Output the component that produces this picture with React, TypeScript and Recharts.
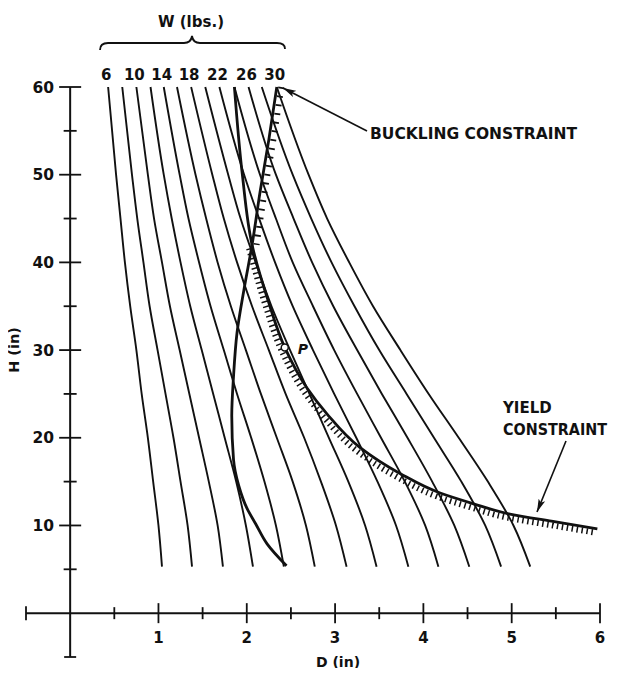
import { ComposedChart, Line, Scatter, XAxis, YAxis, ReferenceLine } from "recharts"

const hLevels = [60, 50, 45, 40, 35, 30, 25, 20, 15, 10, 5.3]

// D (in) for each constant-weight curve, W in lbs
const w06 = [0.43, 0.52, 0.57, 0.62, 0.68, 0.75, 0.81, 0.88, 0.94, 1.0, 1.04]
const w08 = [0.59, 0.7, 0.76, 0.83, 0.9, 0.99, 1.08, 1.17, 1.25, 1.33, 1.38]
const w10 = [0.75, 0.88, 0.95, 1.04, 1.13, 1.24, 1.35, 1.46, 1.57, 1.67, 1.73]
const w12 = [0.91, 1.06, 1.15, 1.25, 1.36, 1.49, 1.62, 1.75, 1.88, 1.99, 2.07]
const w14 = [1.06, 1.24, 1.34, 1.46, 1.59, 1.74, 1.89, 2.05, 2.2, 2.33, 2.42]
const w16 = [1.21, 1.42, 1.54, 1.67, 1.82, 1.99, 2.16, 2.34, 2.52, 2.67, 2.77]
const w18 = [1.37, 1.61, 1.74, 1.89, 2.06, 2.25, 2.44, 2.65, 2.84, 3.01, 3.13]
const w20 = [1.53, 1.79, 1.93, 2.1, 2.28, 2.49, 2.71, 2.93, 3.15, 3.34, 3.47]
const w22 = [1.69, 1.97, 2.14, 2.32, 2.52, 2.75, 2.99, 3.24, 3.48, 3.69, 3.83]
const w24 = [1.86, 2.15, 2.33, 2.52, 2.75, 2.99, 3.25, 3.52, 3.79, 4.02, 4.17]
const w26 = [2.02, 2.33, 2.53, 2.74, 2.98, 3.25, 3.53, 3.82, 4.1, 4.35, 4.52]
const w28 = [2.17, 2.52, 2.73, 2.96, 3.22, 3.5, 3.81, 4.12, 4.43, 4.7, 4.88]
const w30 = [2.34, 2.7, 2.91, 3.16, 3.43, 3.74, 4.06, 4.4, 4.73, 5.02, 5.21]

const weights = [6, 8, 10, 12, 14, 16, 18, 20, 22, 24, 26, 28, 30]
const weightCurves = [w06, w08, w10, w12, w14, w16, w18, w20, w22, w24, w26, w28, w30]
const weightLabels = [6, 10, 14, 18, 22, 26, 30]

// yield constraint (hatched below the crossing with buckling)
const yieldD = [1.86, 1.95, 2.06, 2.24, 2.43, 2.68, 2.91, 3.28, 3.74, 4.19, 4.56, 4.98, 5.5, 5.97]
const yieldH = [60, 50, 42, 35.7, 30.3, 25.7, 22.7, 18.9, 15.9, 13.7, 12.5, 11.3, 10.4, 9.6]

// buckling constraint (hatched above the crossing)
const buckD = [2.34, 2.25, 2.15, 2.06, 1.97, 1.89, 1.85, 1.83, 1.85, 1.91, 2.0, 2.1, 2.23, 2.45]
const buckH = [60, 54, 48, 42, 37, 32, 27, 22.5, 17.5, 14.5, 12, 10.2, 7.9, 5.4]

const pointP = { D: 2.43, H: 30.3 }

const xMajor = [1, 2, 3, 4, 5, 6]
const xMinor = [0.5, 1.5, 2.5, 3.5, 4.5, 5.5]
const yMajor = [10, 20, 30, 40, 50, 60]
const yMinor = [5, 15, 25, 35, 45, 55]

const toPts = (ds: number[], hs: number[]) => ds.map((d, i) => ({ D: d, H: hs[i] }))

const curveData = weightCurves.map((ds) => toPts(ds, hLevels))
const yieldPts = toPts(yieldD, yieldH)
const buckPts = toPts(buckD, buckH)

const xTickData = [
  ...xMajor.map((v) => ({ D: v, H: 0, len: 10, label: String(v) })),
  ...xMinor.map((v) => ({ D: v, H: 0, len: 6, label: "" })),
  { D: -0.5, H: 0, len: 7, label: "" },
]
const yTickData = [
  ...yMajor.map((v) => ({ D: 0, H: v, len: 11, label: String(v) })),
  ...yMinor.map((v) => ({ D: 0, H: v, len: 6.5, label: "" })),
  { D: 0, H: -5, len: 6, label: "" },
]
const wLabelData = weightLabels.map((w) => ({
  D: weightCurves[weights.indexOf(w)][0],
  H: hLevels[0],
  label: String(w),
}))

const font = { fontFamily: "DejaVu Sans", fontWeight: "bold" as const }
const ink = "#111"

const XTick = (p: any) => (
  <g>
    <line x1={p.cx} x2={p.cx} y1={p.cy - p.payload.len} y2={p.cy + p.payload.len} stroke={ink} strokeWidth={1.8} />
    {p.payload.label && (
      <text x={p.cx} y={p.cy + 30} textAnchor="middle" fontSize={15} fill={ink} {...font}>
        {p.payload.label}
      </text>
    )}
  </g>
)

const YTick = (p: any) => (
  <g>
    <line x1={p.cx - p.payload.len} x2={p.cx + p.payload.len} y1={p.cy} y2={p.cy} stroke={ink} strokeWidth={1.8} />
    {p.payload.label && (
      <text x={p.cx - 16} y={p.cy + 5.5} textAnchor="end" fontSize={15.5} fill={ink} {...font}>
        {p.payload.label}
      </text>
    )}
  </g>
)

const WLabel = (p: any) => (
  <text x={p.cx - 2} y={p.cy - 7} textAnchor="middle" fontSize={15} fill={ink} {...font}>
    {p.payload.label}
  </text>
)

const PMark = (p: any) => (
  <g>
    <circle cx={p.cx} cy={p.cy} r={3.5} fill="#fff" stroke={ink} strokeWidth={1.5} />
    <text x={p.cx + 13} y={p.cy + 7} fontSize={14} fill={ink} fontStyle="italic" {...font}>
      P
    </text>
  </g>
)

export default function App() {
  return (
    <div style={{ position: "relative", width: 610, height: 660, background: "#fff" }}>
      <ComposedChart width={610} height={660} margin={{ top: 79, right: 18, left: 18, bottom: 11 }}>
        <XAxis hide type="number" dataKey="D" domain={[-0.5, 6]} />
        <YAxis hide type="number" dataKey="H" domain={[-5, 60]} />
        <ReferenceLine x={0} stroke={ink} strokeWidth={2} />
        <ReferenceLine y={0} stroke={ink} strokeWidth={2} />
        {curveData.map((pts, i) => (
          <Line
            key={weights[i]}
            data={pts}
            dataKey="H"
            type="monotoneY"
            stroke={ink}
            strokeWidth={1.9}
            dot={false}
            isAnimationActive={false}
          />
        ))}
        <Line data={yieldPts} dataKey="H" type="monotoneY" stroke={ink} strokeWidth={2.8} dot={false} isAnimationActive={false} />
        <Line
          data={yieldPts.slice(2)}
          dataKey="H"
          type="monotoneY"
          stroke={ink}
          strokeWidth={6}
          strokeDasharray="1.5 3.5"
          transform="translate(-3,3.5)"
          dot={false}
          isAnimationActive={false}
        />
        <Line data={buckPts} dataKey="H" type="monotoneY" stroke={ink} strokeWidth={2.8} dot={false} isAnimationActive={false} />
        <Line
          data={buckPts.slice(0, 4)}
          dataKey="H"
          type="monotoneY"
          stroke={ink}
          strokeWidth={6}
          strokeDasharray="1.8 7"
          transform="translate(4.5,0)"
          dot={false}
          isAnimationActive={false}
        />
        <Scatter data={[pointP]} dataKey="H" shape={PMark} isAnimationActive={false} />
        <Scatter data={xTickData} dataKey="H" shape={XTick} isAnimationActive={false} />
        <Scatter data={yTickData} dataKey="H" shape={YTick} isAnimationActive={false} />
        <Scatter data={wLabelData} dataKey="H" shape={WLabel} isAnimationActive={false} />
      </ComposedChart>
      <svg
        width={610}
        height={660}
        style={{ position: "absolute", left: 0, top: 0, overflow: "visible", pointerEvents: "none" }}
      >
        <defs>
          <marker id="head" markerWidth={13} markerHeight={8} refX={13} refY={4} orient="auto" markerUnits="userSpaceOnUse">
            <path d="M0,0.5 L13,4 L0,7.5 L3,4 z" fill={ink} />
          </marker>
        </defs>
        <g transform="translate(-8,-8)" fill={ink} {...font}>
          <text x={191} y={27} textAnchor="middle" fontSize={15}>W (lbs.)</text>
          <path
            d="M100,50 Q100,43 108,43 L184,43 Q191,43 192,36 Q193,43 200,43 L277,43 Q285,43 285,49"
            fill="none"
            stroke={ink}
            strokeWidth={1.8}
          />
          <text x={14} y={350} transform="rotate(-90 14 350)" textAnchor="middle" dominantBaseline="central" fontSize={14.5}>
            H (in)
          </text>
          <text x={338} y={667} textAnchor="middle" fontSize={14}>D (in)</text>
          <text x={370} y={139} fontSize={15.5}>BUCKLING CONSTRAINT</text>
          <text x={503} y={413} fontSize={15}>YIELD</text>
          <text x={503} y={435} fontSize={15} textLength={104} lengthAdjust="spacingAndGlyphs">CONSTRAINT</text>
          <line x1={367} y1={131} x2={283} y2={88} stroke={ink} strokeWidth={1.6} markerEnd="url(#head)" />
          <line x1={566} y1={441} x2={537} y2={512} stroke={ink} strokeWidth={1.6} markerEnd="url(#head)" />
        </g>
      </svg>
    </div>
  )
}
